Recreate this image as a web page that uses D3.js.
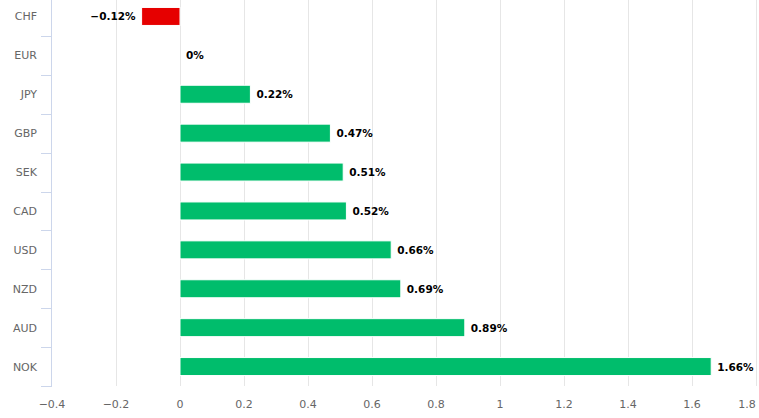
<!DOCTYPE html>
<html><head><meta charset="utf-8">
<script src="https://cdn.jsdelivr.net/npm/d3@7"></script>
<style>body{margin:0;background:#fff}svg{display:block}</style>
</head><body><svg id="c" width="759" height="418"></svg>
<script>
const categories = ["CHF","EUR","JPY","GBP","SEK","CAD","USD","NZD","AUD","NOK"];
const values = [-0.12,0,0.22,0.47,0.51,0.52,0.66,0.69,0.89,1.66];
const xTicks = [-0.4,-0.2,0,0.2,0.4,0.6,0.8,1,1.2,1.4,1.6,1.8];

const rows = categories.map((c,i)=>({cat:c, v:values[i]}));
const svg = d3.select("#c");
const font = "'DejaVu Sans', Verdana, sans-serif";
const x = d3.scaleLinear().domain([-0.4,1.8]).range([52,756]);
const y = d3.scaleBand().domain(categories).range([-3,386]);

// gridlines
svg.append("g").selectAll("line").data(xTicks.slice(1)).join("line")
  .attr("x1",d=>Math.round(x(d))+0.5).attr("x2",d=>Math.round(x(d))+0.5)
  .attr("y1",0).attr("y2",386).attr("stroke","#e6e6e6").attr("stroke-width",1);

// y axis line and ticks
const boundaries = categories.map(c=>y(c)).concat([y.range()[1]]);
svg.append("line").attr("x1",51.5).attr("x2",51.5).attr("y1",0).attr("y2",386)
  .attr("stroke","#ccd6eb");
svg.append("g").selectAll("line").data(boundaries).join("line")
  .attr("x1",41).attr("x2",52).attr("y1",d=>Math.round(d)+0.5).attr("y2",d=>Math.round(d)+0.5)
  .attr("stroke","#ccd6eb");

// category labels
svg.append("g").selectAll("text").data(categories).join("text")
  .attr("x",37).attr("y",d=>y(d)+y.bandwidth()/2+4)
  .attr("text-anchor","end").attr("font-family",font).attr("font-size",11)
  .attr("fill","#666").text(d=>d);

// x tick labels
svg.append("g").selectAll("text").data(xTicks).join("text")
  .attr("x",d=>d===1.8?x(d)-9:x(d)).attr("y",408)
  .attr("text-anchor","middle").attr("font-family",font).attr("font-size",11)
  .attr("fill","#666").text(d=>d<0?"\u2212"+Math.abs(d):String(d));

// bars
const bh = 18;
svg.append("g").selectAll("rect").data(rows.filter(r=>r.v!==0)).join("rect")
  .attr("x",d=>x(Math.min(0,d.v))).attr("width",d=>Math.abs(x(d.v)-x(0)))
  .attr("y",d=>y(d.cat)+y.bandwidth()/2-bh/2).attr("height",bh)
  .attr("fill",d=>d.v<0?"#e60000":"#00bd6c").attr("stroke","#fff").attr("stroke-width",1);

// data labels
svg.append("g").selectAll("text").data(rows).join("text")
  .attr("x",d=>d.v<0?x(d.v)-6:x(d.v)+6)
  .attr("y",d=>y(d.cat)+y.bandwidth()/2+4)
  .attr("text-anchor",d=>d.v<0?"end":"start")
  .attr("font-family",font).attr("font-size",10.5).attr("font-weight","bold")
  .attr("fill","#000")
  .text(d=>(d.v<0?"\u2212"+Math.abs(d.v):String(d.v))+"%");
</script></body></html>
